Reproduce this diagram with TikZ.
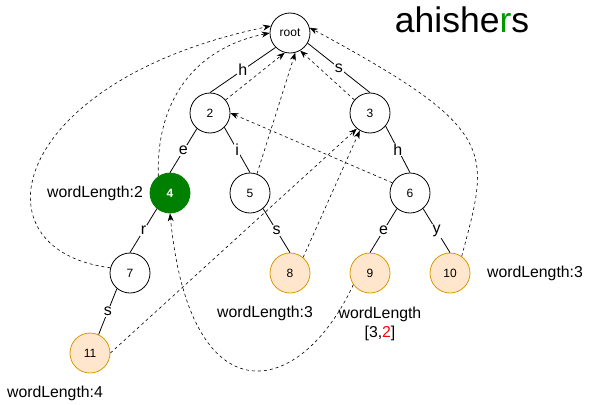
\documentclass[tikz,border=0pt]{standalone}
\usepackage{fontspec}
\setmainfont{Liberation Sans}
\usetikzlibrary{arrows.meta,positioning}
\definecolor{leafFill}{HTML}{FFE6CC}
\definecolor{leafLine}{HTML}{D79B00}
\definecolor{wordGreen}{HTML}{008000}
\definecolor{titleGreen}{HTML}{009900}

\begin{document}
\begin{tikzpicture}[x=1pt,y=-1pt,node distance=80pt and 40pt,on grid,line width=0.8pt]

\tikzstyle{trie}=[circle,draw=black,minimum size=40pt,inner sep=0pt,font=\fontsize{12}{14}\selectfont]
\tikzstyle{word}=[trie,fill=leafFill,draw=leafLine]
\tikzstyle{found}=[trie,fill=wordGreen,draw=wordGreen,text=white,font=\fontsize{12}{14}\selectfont\bfseries]
\tikzstyle{char}=[fill=white,inner sep=1pt,font=\fontsize{16}{18}\selectfont]
\tikzstyle{note}=[font=\fontsize{15.8}{19}\selectfont,align=center]
\tikzstyle{fail}=[line width=0.6pt,dash pattern=on 3pt off 3pt,-{Stealth[length=8pt,width=6pt]}]

\useasboundingbox (0,0) rectangle (591,404);

\node [trie] (root) at (290,33) {root};
\node [trie] (n2) [below left=80pt and 80pt of root] {2};
\node [trie] (n3) [below right=80pt and 80pt of root] {3};
\node [found] (n4) [below left=of n2] {4};
\node [trie] (n5) [below right=of n2] {5};
\node [trie] (n6) [below right=of n3] {6};
\node [trie] (n7) [below left=of n4] {7};
\node [word] (n8) [below right=of n5] {8};
\node [word] (n9) [below left=of n6] {9};
\node [word] (n10) [below right=of n6] {10};
\node [word] (n11) [below left=of n7] {11};

\node [font=\fontsize{35.5}{40}\selectfont,anchor=base] (title) at (462,33) {ahishe\textcolor{titleGreen}{r}s};

\node [note] (len4) at (95,193) {wordLength:2};
\node [note] (len8) at (265,313) {wordLength:3};
\node [note] (len9) at (380,324) {wordLength\\{}[3,\textcolor{red}{2}]};
\node [note] (len10) at (535,273) {wordLength:3};
\node [note] (len11) at (55,393) {wordLength:4};

% trie edges
\draw (root.225) -- node [char] {h} (n2.north);
\draw (root.-30) -- node [char] {s} (n3.north);
\draw (n2.230) -- node [char] {e} (n4.north);
\draw (n2.-45) -- node [char] {i} (n5.north);
\draw (n3.-40) -- node [char] {h} (n6.north);
\draw (n4.230) -- node [char] {r} (n7.north);
\draw (n5.-50) -- node [char] {s} (n8.north);
\draw (n6.230) -- node [char] {e} (n9.north);
\draw (n6.-50) -- node [char] {y} (n10.north);
\draw (n7.230) -- node [char] {s} (n11.65);

% failure links
\draw [fail] (n2.40) -- (root.255);
\draw [fail] (n5.70) -- (root.-75);
\draw [fail] (n3.140) -- (root.-60);
\draw [fail] (n6.150) -- (n2.east);
\draw [fail] (n8.50) -- (n3.240);
\draw [fail] (n11.east) -- (n3.230);
\draw [fail] (n4.125) .. controls (156,100) and (195,48) .. (root.180);
\draw [fail] (n7.165) .. controls (-30,250) and (10,80) .. (root.160);
\draw [fail] (n10.55) .. controls (490,150) and (500,130) .. (root.15);
\draw [fail] (n9.215) .. controls (300,400) and (190,420) .. (n4.south);

\end{tikzpicture}
\end{document}
